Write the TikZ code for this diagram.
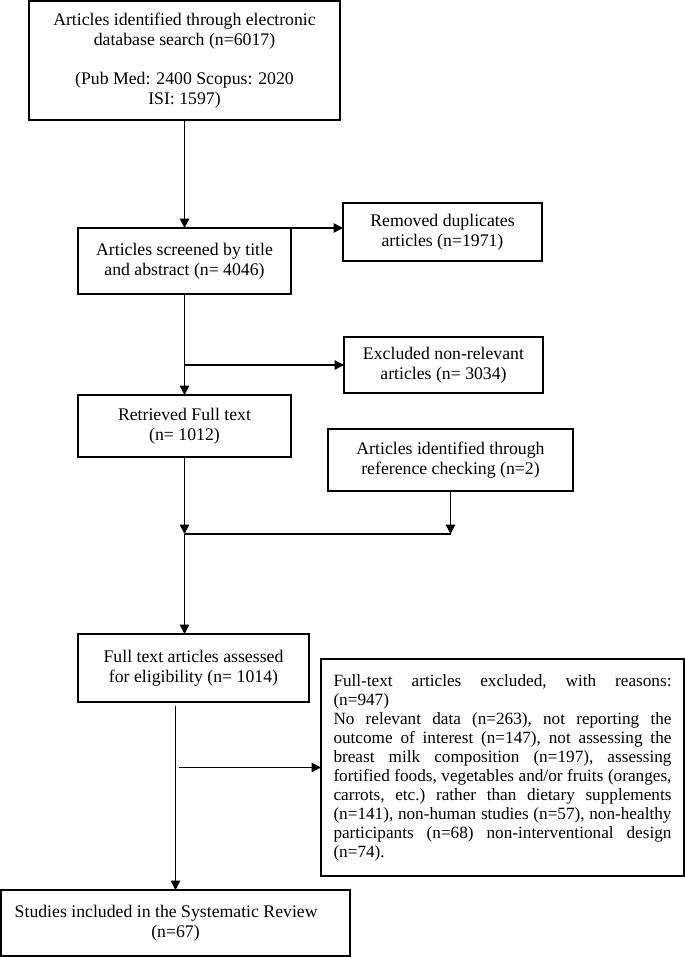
\documentclass[tikz,border=0pt]{standalone}
\usepackage{fontspec}
\setmainfont{Liberation Serif}
\usetikzlibrary{arrows.meta,calc}

\begin{document}
\begin{tikzpicture}[x=0.75pt,y=-0.75pt,
    box/.style={draw,line width=1.1pt,inner sep=0pt,outer sep=0pt,align=center,
      font=\fontsize{13.3}{15}\selectfont},
    arr/.style={line width=1.1pt,-{Triangle[length=7pt,width=7pt]}},
    link/.style={line width=1.1pt}]
  \useasboundingbox (0,0) rectangle (685,957);

  \node[box,minimum width=233.25pt,minimum height=89.25pt] (search) at (184.5,60.5)
    {Articles identified through electronic\\ database search (n=6017)\\[14pt]
     (Pub Med: 2400 Scopus: 2020\\ ISI: 1597)};
  \node[box,minimum width=159.75pt,minimum height=49.5pt] (screen) at (184.5,261)
    {Articles screened by title\\ and abstract (n= 4046)};
  \node[box,minimum width=149.25pt,minimum height=43.5pt] (dupl) at (442.5,232)
    {Removed duplicates\\ articles (n=1971)};
  \node[box,minimum width=149.25pt,minimum height=42pt] (nonrel) at (443.5,365)
    {Excluded non-relevant\\ articles (n= 3034)};
  \node[box,minimum width=159.75pt,minimum height=46.5pt] (retr) at (184.5,426)
    {Retrieved Full text\\ (n= 1012)};
  \node[box,minimum width=183.75pt,minimum height=46.5pt] (refck) at (450.5,460)
    {Articles identified through\\ reference checking (n=2)};
  \node[box,minimum width=173.25pt,minimum height=51pt] (elig) at (193.5,668)
    {Full text articles assessed\\ for eligibility (n= 1014)};
  \node[box,minimum width=272.25pt,minimum height=162.75pt,inner xsep=9.4pt,
    text width=253.5pt,align=justify,font=\fontsize{12.9}{14.25}\selectfont]
    (reasons) at (502.5,767.5)
    {\hyphenpenalty=10000\relax\exhyphenpenalty=10000\relax\frenchspacing
     Full-text articles excluded, with reasons:\linebreak (n=947)\\
     No relevant data (n=263), not reporting the\linebreak
     outcome of interest (n=147), not assessing the\linebreak
     breast milk composition (n=197), assessing\linebreak
     fortified foods, vegetables and/or fruits (oranges,\linebreak
     carrots, etc.) rather than dietary supplements\linebreak
     (n=141), non-human studies (n=57), non-healthy\linebreak
     participants (n=68) non-interventional design\linebreak
     (n=74).};
  \node[box,minimum width=261.75pt,minimum height=49.5pt] (incl) at (175.5,923)
    {Studies included in the Systematic Review\hspace*{14pt}\\ (n=67)};

  % joins
  \coordinate (merge) at (184.5,534);
  \coordinate (refend) at (refck.south |- merge);

  \draw[arr] (search) -- (screen);
  \draw[arr] (screen.north) -- (screen.north -| dupl.west);
  \draw[arr] (screen) -- (retr);
  \draw[arr] (nonrel.west -| screen.south) -- (nonrel.west);
  \draw[arr] (retr) -- (merge);
  \draw[arr] (refck) -- (refend);
  \draw[link] (merge) -- (refend);
  \draw[arr] (merge) -- (merge |- elig.north);
  \draw[arr] ($(incl.north |- elig.south)+(0,4)$) -- (incl.north);
  \draw[arr] ($(reasons.west -| incl.north)+(3,0)$) -- (reasons.west);
\end{tikzpicture}
\end{document}
